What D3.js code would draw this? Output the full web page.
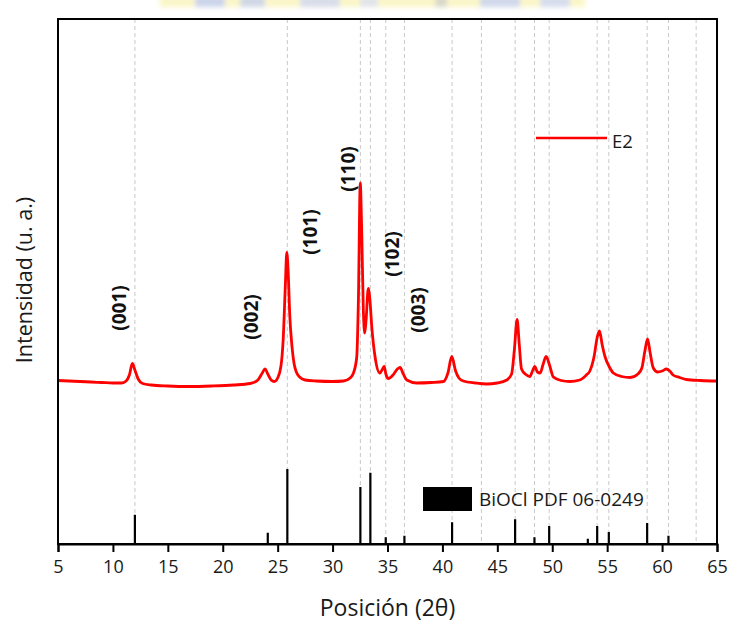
<!DOCTYPE html>
<html>
<head>
<meta charset="utf-8">
<script src="https://cdn.jsdelivr.net/npm/d3@7"></script>
<style>
  html, body { margin: 0; padding: 0; background: #fff; }
  svg { display: block; font-family: "Open Sans", "Noto Sans", sans-serif; }
</style>
</head>
<body>
<svg id="chart" width="732" height="624"></svg>
<script>
// Measured pattern of sample E2 (2θ in degrees, intensity in arbitrary units)
const twoTheta = [
  5.0, 6.0, 7.0, 8.0, 9.0, 10.0, 10.8, 11.2, 11.5, 11.77, 12.0, 12.3, 12.7, 13.5,
  15.0, 17.0, 19.0, 21.0, 22.5, 23.2, 23.6, 23.85, 24.1, 24.4, 24.7, 25.0, 25.3,
  25.5, 25.7, 25.83, 25.95, 26.1, 26.3, 26.5, 26.7, 27.0, 27.5, 28.5, 30.0, 31.0,
  31.6, 31.9, 32.2, 32.35, 32.52, 32.65, 32.8, 32.93, 33.05, 33.25, 33.4, 33.57,
  33.87, 34.3, 34.55, 34.7, 34.85, 35.08, 35.5, 35.9, 36.15, 36.4, 36.76, 37.67,
  39.0, 40.1, 40.5, 40.85, 41.2, 41.5, 41.9, 43.0, 44.0, 45.0, 45.86, 46.3, 46.55,
  46.8, 47.0, 47.2, 47.6, 47.97, 48.2, 48.4, 48.65, 48.9, 49.15, 49.44, 49.75,
  50.1, 50.8, 51.6, 52.5, 53.1, 53.4, 53.8, 54.1, 54.3, 54.55, 54.8, 55.2, 55.56,
  56.3, 57.1, 57.8, 58.16, 58.45, 58.68, 58.9, 59.2, 59.6, 60.0, 60.4, 60.7, 61.0,
  61.6, 62.2, 63.5, 65.0
];
const intensityE2 = [
  163.5, 163, 162.5, 162, 161.5, 161, 161, 163, 169, 180.5, 174, 165, 160.5, 159,
  158, 157.5, 158, 159, 160.5, 164, 171, 175, 170, 164, 162.5, 166, 178,
  204, 259, 291.5, 274, 229, 198, 180, 172, 167, 164, 163, 162.5, 163,
  166, 171, 187, 244, 361, 314, 234, 211, 224, 255.5, 244, 217,
  187, 171, 175, 177.5, 170, 165.5, 169, 175, 176.5, 171, 164, 161,
  161.5, 162.5, 171, 187.5, 173, 166, 163, 161, 160, 161, 164, 170, 194,
  224.5, 199, 175, 169.5, 167.5, 173, 177.5, 172, 171, 179, 187.5, 179,
  167, 163.5, 162.5, 164, 169, 172.5, 187, 207, 213, 199, 187.5, 177, 171,
  167.5, 166.5, 170, 176, 194, 205, 192, 176, 172, 173, 175, 173, 169,
  166.5, 164.5, 163.5, 163
];

// Reference pattern BiOCl PDF 06-0249 (2θ, relative intensity %)
const refPositions = [12.0, 24.1, 25.88, 32.53, 33.44, 34.84, 36.54, 40.88, 46.62,
  48.38, 49.72, 53.24, 54.09, 55.15, 58.64, 60.58];
const refIntensity = [39, 15, 100, 76, 95, 9, 11, 29, 33, 9, 24, 7, 24, 16, 28, 11];

// Dashed guide lines at the reference reflections
const guidePositions = [12.0, 25.88, 32.53, 33.44, 34.84, 36.54, 40.88, 43.55, 46.62,
  48.38, 49.72, 54.09, 55.15, 58.64, 60.58, 63.1];

// Miller index annotations (2θ and intensity at label centre)
const hklLabels = ["(001)", "(002)", "(101)", "(110)", "(102)", "(003)"];
const hklX = [10.56, 22.58, 27.95, 31.41, 35.39, 37.81];
const hklY = [236, 227, 312, 375, 290, 234];

const xTicks = [5, 10, 15, 20, 25, 30, 35, 40, 45, 50, 55, 60, 65];

const svg = d3.select("#chart");
const plotLeft = 58, plotRight = 717, plotTop = 19, plotBottom = 544;

const x = d3.scaleLinear().domain([5, 65]).range([plotLeft, plotRight]);
const y = d3.scaleLinear().domain([0, 525]).range([plotBottom, plotTop]);
const yRef = d3.scaleLinear().domain([0, 100]).range([plotBottom, plotBottom - 75]);

// faint banner strip at the top edge
const defs = svg.append("defs");
const blur = defs.append("filter").attr("id", "soft").attr("x", "-20%").attr("y", "-200%")
  .attr("width", "140%").attr("height", "500%");
blur.append("feGaussianBlur").attr("stdDeviation", 2.5);
const banner = svg.append("g").attr("filter", "url(#soft)").attr("opacity", 0.55);
banner.append("rect").attr("x", 160).attr("y", -4).attr("width", 425).attr("height", 11).attr("fill", "#f7ef9a");
[[195, 30, "#9fb0d8"], [240, 25, "#a9b6cf"], [300, 40, "#b6c0d6"], [360, 18, "#c9cdd6"],
 [435, 12, "#b9b59a"], [480, 40, "#a8b7d8"], [540, 30, "#b3c0dc"]].forEach(b => {
  banner.append("rect").attr("x", b[0]).attr("y", -4).attr("width", b[1]).attr("height", 11).attr("fill", b[2]);
});

// guide lines
svg.append("g").selectAll("line").data(guidePositions).join("line")
  .attr("x1", d => x(d)).attr("x2", d => x(d))
  .attr("y1", plotTop).attr("y2", plotBottom)
  .attr("stroke", "#c8c8c8").attr("stroke-width", 1)
  .attr("stroke-dasharray", "4,3");

// reference sticks
svg.append("g").selectAll("line").data(refPositions).join("line")
  .attr("x1", d => x(d)).attr("x2", d => x(d))
  .attr("y1", plotBottom).attr("y2", (d, i) => yRef(refIntensity[i]))
  .attr("stroke", "#000").attr("stroke-width", 2.2);

// E2 pattern
const line = d3.line()
  .x((d, i) => x(twoTheta[i]))
  .y(d => y(d))
  .curve(d3.curveMonotoneX);
svg.append("path").datum(intensityE2)
  .attr("d", line)
  .attr("fill", "none").attr("stroke", "#ff0000")
  .attr("stroke-width", 2.8).attr("stroke-linejoin", "round");

// frame
svg.append("rect").attr("x", plotLeft).attr("y", plotTop)
  .attr("width", plotRight - plotLeft).attr("height", plotBottom - plotTop)
  .attr("fill", "none").attr("stroke", "#000").attr("stroke-width", 2);

// x axis
const xAxis = d3.axisBottom(x).tickValues(xTicks).tickSize(8).tickPadding(8).tickFormat(d3.format("d"));
const gx = svg.append("g").attr("transform", `translate(0,${plotBottom})`).call(xAxis);
gx.select(".domain").attr("stroke", "#000").attr("stroke-width", 2);
gx.selectAll(".tick line").attr("stroke", "#000").attr("stroke-width", 2);
gx.selectAll(".tick text").attr("font-size", 18).attr("fill", "#1a1a1a")
  .attr("font-family", "'Open Sans', sans-serif");

// axis titles
svg.append("text").attr("x", (plotLeft + plotRight) / 2).attr("y", 607)
  .attr("text-anchor", "middle").attr("dominant-baseline", "central")
  .attr("font-size", 23).attr("fill", "#1a1a1a").text("Posición (2θ)");
svg.append("text").attr("transform", "translate(23,280) rotate(-90)")
  .attr("text-anchor", "middle").attr("dominant-baseline", "central")
  .attr("font-size", 21.5).attr("fill", "#1a1a1a").text("Intensidad (u. a.)");

// hkl labels
svg.append("g").selectAll("text").data(hklLabels).join("text")
  .attr("transform", (d, i) => `translate(${x(hklX[i])},${y(hklY[i])}) rotate(-90)`)
  .attr("text-anchor", "middle").attr("dominant-baseline", "central")
  .attr("font-size", 19).attr("font-weight", "bold").attr("fill", "#111")
  .text(d => d);

// legend: sample
svg.append("line").attr("x1", 536).attr("x2", 607).attr("y1", 138).attr("y2", 138)
  .attr("stroke", "#ff0000").attr("stroke-width", 2.6);
svg.append("text").attr("x", 612).attr("y", 140).attr("dominant-baseline", "central")
  .attr("font-size", 18.5).attr("fill", "#1a1a1a").text("E2");

// legend: reference pattern
svg.append("rect").attr("x", 423).attr("y", 487).attr("width", 49).attr("height", 24).attr("fill", "#000");
svg.append("text").attr("x", 479).attr("y", 499).attr("dominant-baseline", "central")
  .attr("font-size", 19).attr("fill", "#1a1a1a").text("BiOCl PDF 06-0249");
</script>
</body>
</html>
